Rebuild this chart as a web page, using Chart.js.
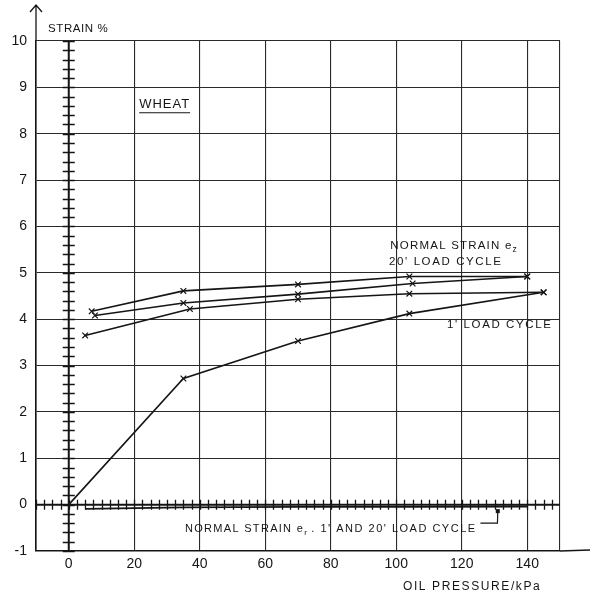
<!DOCTYPE html>
<html>
<head>
<meta charset="utf-8">
<script src="https://cdn.jsdelivr.net/npm/chart.js@4.4.1/dist/chart.umd.min.js"></script>
<style>
  html, body { margin: 0; padding: 0; background: #fff; }
  #grafico { display: block; }
</style>
</head>
<body>
<canvas id="grafico" width="594" height="599"></canvas>
<script>
/* ── Dados ──────────────────────────────────────────────────── */

// rótulos dos eixos
const pressaoTicks = [0, 20, 40, 60, 80, 100, 120, 140];
const strainTicks  = [-1, 0, 1, 2, 3, 4, 5, 6, 7, 8, 9, 10];

// ciclo de 20' (dois ramos)
const ciclo20AX = [7, 35, 70, 104, 140];
const ciclo20AY = [4.17, 4.61, 4.75, 4.92, 4.92];
const ciclo20BX = [8, 35, 70, 105, 140];
const ciclo20BY = [4.08, 4.35, 4.54, 4.77, 4.92];

// ciclo de 1' (carga e descarga)
const ciclo1CargaX = [0, 35, 70, 104, 145];
const ciclo1CargaY = [0, 2.72, 3.53, 4.12, 4.58];
const ciclo1DescX  = [145, 104, 70, 37, 5];
const ciclo1DescY  = [4.58, 4.55, 4.43, 4.22, 3.65];

// deformação normal e_r (1' e 20')
const radialX = [5, 35, 70, 104, 140];
const radialY = [-0.09, -0.06, -0.05, -0.05, -0.04];

/* ── Helpers ────────────────────────────────────────────────── */

const TINTA = '#151515';
const FONTE = '"Liberation Sans", "DejaVu Sans", sans-serif';

function pares(xs, ys) {
  return xs.map((x, i) => ({ x, y: ys[i] }));
}

function serie(label, xs, ys, extra = {}) {
  return Object.assign({
    label,
    data: pares(xs, ys),
    showLine: true,
    borderColor: TINTA,
    borderWidth: 1.6,
    pointStyle: 'crossRot',
    pointRadius: 4,
    pointBorderWidth: 1.2,
    pointBorderColor: TINTA,
    pointBackgroundColor: TINTA,
    tension: 0,
  }, extra);
}

// texto com espaçamento entre letras (fonte de plotter)
function texto(ctx, str, x, y, size, spacing) {
  ctx.font = `${size}px ${FONTE}`;
  ctx.letterSpacing = `${spacing}px`;
  ctx.fillText(str, x, y);
  const w = ctx.measureText(str).width;
  ctx.letterSpacing = '0px';
  return x + w;
}

/* ── Plugin: eixos hachurados, seta e anotações ─────────────── */

const anotacoes = {
  id: 'anotacoes',
  beforeDatasetsDraw(chart) {
    const { ctx, chartArea: a } = chart;
    const sx = chart.scales.x, sy = chart.scales.y;
    const px = v => sx.getPixelForValue(v);
    const py = v => sy.getPixelForValue(v);

    ctx.save();
    ctx.strokeStyle = TINTA;
    ctx.fillStyle = TINTA;

    // eixo horizontal em y = 0, hachurado a cada 2.5 kPa
    ctx.lineWidth = 2;
    ctx.beginPath();
    ctx.moveTo(a.left, py(0));
    ctx.lineTo(a.right, py(0));
    ctx.stroke();
    ctx.lineWidth = 1.3;
    ctx.beginPath();
    for (let v = -10; v < 150; v += 2.5) {
      const x = Math.round(px(v)) + 0.5;
      ctx.moveTo(x, py(0) - 5);
      ctx.lineTo(x, py(0) + 5);
    }
    ctx.stroke();

    // eixo vertical em x = 0, hachurado a cada 0.2 %
    ctx.lineWidth = 2;
    ctx.beginPath();
    ctx.moveTo(px(0), a.top);
    ctx.lineTo(px(0), a.bottom);
    ctx.stroke();
    ctx.lineWidth = 1.3;
    ctx.beginPath();
    for (let k = -5; k <= 50; k++) {
      const y = Math.round(py(k / 5)) + 0.5;
      ctx.moveTo(px(0) - 6, y);
      ctx.lineTo(px(0) + 6, y);
    }
    ctx.stroke();

    // seta no topo do eixo esquerdo
    ctx.lineWidth = 1.3;
    ctx.beginPath();
    ctx.moveTo(a.left, a.top);
    ctx.lineTo(a.left, 5);
    ctx.moveTo(a.left - 6, 12);
    ctx.lineTo(a.left, 5);
    ctx.lineTo(a.left + 6, 12);
    ctx.stroke();

    // prolongamento do eixo inferior
    ctx.beginPath();
    ctx.moveTo(a.right, a.bottom);
    ctx.lineTo(a.right + 30, a.bottom - 1);
    ctx.stroke();

    ctx.textBaseline = 'alphabetic';
    ctx.textAlign = 'left';

    // títulos dos eixos
    texto(ctx, 'STRAIN %', a.left + 12, a.top - 9, 11.5, 0.6);
    texto(ctx, 'OIL PRESSURE/kPa', 403, 590, 12, 1.6);

    // WHEAT sublinhado
    const wx = px(21.5), wy = py(8.55);
    const wFim = texto(ctx, 'WHEAT', wx, wy, 13, 1);
    ctx.lineWidth = 1.2;
    ctx.beginPath();
    ctx.moveTo(wx, wy + 4.5);
    ctx.lineTo(wFim, wy + 4.5);
    ctx.stroke();

    // NORMAL STRAIN e_z / 20' LOAD CYCLE
    let fim = texto(ctx, 'NORMAL STRAIN e', px(98.2), py(5.52), 11.5, 1.2);
    texto(ctx, 'z', fim, py(5.52) + 3, 8.5, 0);
    texto(ctx, "20' LOAD CYCLE", px(97.8), py(5.16), 11.5, 1.6);

    // 1' LOAD CYCLE
    texto(ctx, "1' LOAD CYCLE", px(115.5), py(3.8), 11.5, 1.6);

    // NORMAL STRAIN e_r , 1' AND 20' LOAD CYCLE
    const by = py(-0.59);
    fim = texto(ctx, 'NORMAL STRAIN e', px(35.5), by, 11, 1.3);
    fim = texto(ctx, 'r', fim, by + 3, 8, 0);
    texto(ctx, " . 1' AND 20' LOAD CYCLE", fim, by, 11, 1.5);

    // linha de chamada
    ctx.lineWidth = 1.2;
    ctx.beginPath();
    ctx.moveTo(px(125.7), py(-0.4));
    ctx.lineTo(px(130.9), py(-0.4));
    ctx.lineTo(px(131), py(-0.14));
    ctx.stroke();
    ctx.fillRect(px(131) - 2, py(-0.14) - 2, 4, 4);

    ctx.restore();
  },
};

/* ── Gráfico ────────────────────────────────────────────────── */

const canvas = document.getElementById('grafico');

new Chart(canvas.getContext('2d'), {
  type: 'scatter',
  data: {
    datasets: [
      serie("20' load cycle A", ciclo20AX, ciclo20AY),
      serie("20' load cycle B", ciclo20BX, ciclo20BY),
      serie("1' loading", ciclo1CargaX, ciclo1CargaY, {
        pointRadius: ctx => (ctx.raw && ctx.raw.y === 0 ? 0 : 4),
      }),
      serie("1' unloading", ciclo1DescX, ciclo1DescY),
      serie('e_r', radialX, radialY, { pointRadius: 0, borderWidth: 1.8 }),
    ],
  },
  options: {
    responsive: false,
    devicePixelRatio: 1,
    animation: false,
    layout: { padding: { top: 41, right: 34, left: 0, bottom: 0 } },
    plugins: {
      legend: { display: false },
      tooltip: { enabled: false },
    },
    scales: {
      x: {
        type: 'linear',
        min: -10,
        max: 150,
        afterFit: s => { s.height = 48; },
        afterBuildTicks: s => {
          s.ticks = [-10, ...pressaoTicks, 150].map(v => ({ value: v }));
        },
        grid: { color: '#2a2a2a', lineWidth: 1.1, drawTicks: false },
        border: { color: TINTA, width: 1.6 },
        ticks: {
          color: TINTA,
          padding: 5,
          font: { family: FONTE, size: 14 },
          callback: v => (pressaoTicks.includes(v) ? String(v) : ''),
        },
      },
      y: {
        type: 'linear',
        min: -1,
        max: 10,
        afterFit: s => { s.width = 36; },
        afterBuildTicks: s => {
          s.ticks = strainTicks.map(v => ({ value: v }));
        },
        grid: { color: '#2a2a2a', lineWidth: 1.1, drawTicks: false },
        border: { color: TINTA, width: 1.6 },
        ticks: {
          color: TINTA,
          padding: 9,
          font: { family: FONTE, size: 14 },
          callback: v => String(v),
        },
      },
    },
  },
  plugins: [anotacoes],
});
</script>
</body>
</html>
